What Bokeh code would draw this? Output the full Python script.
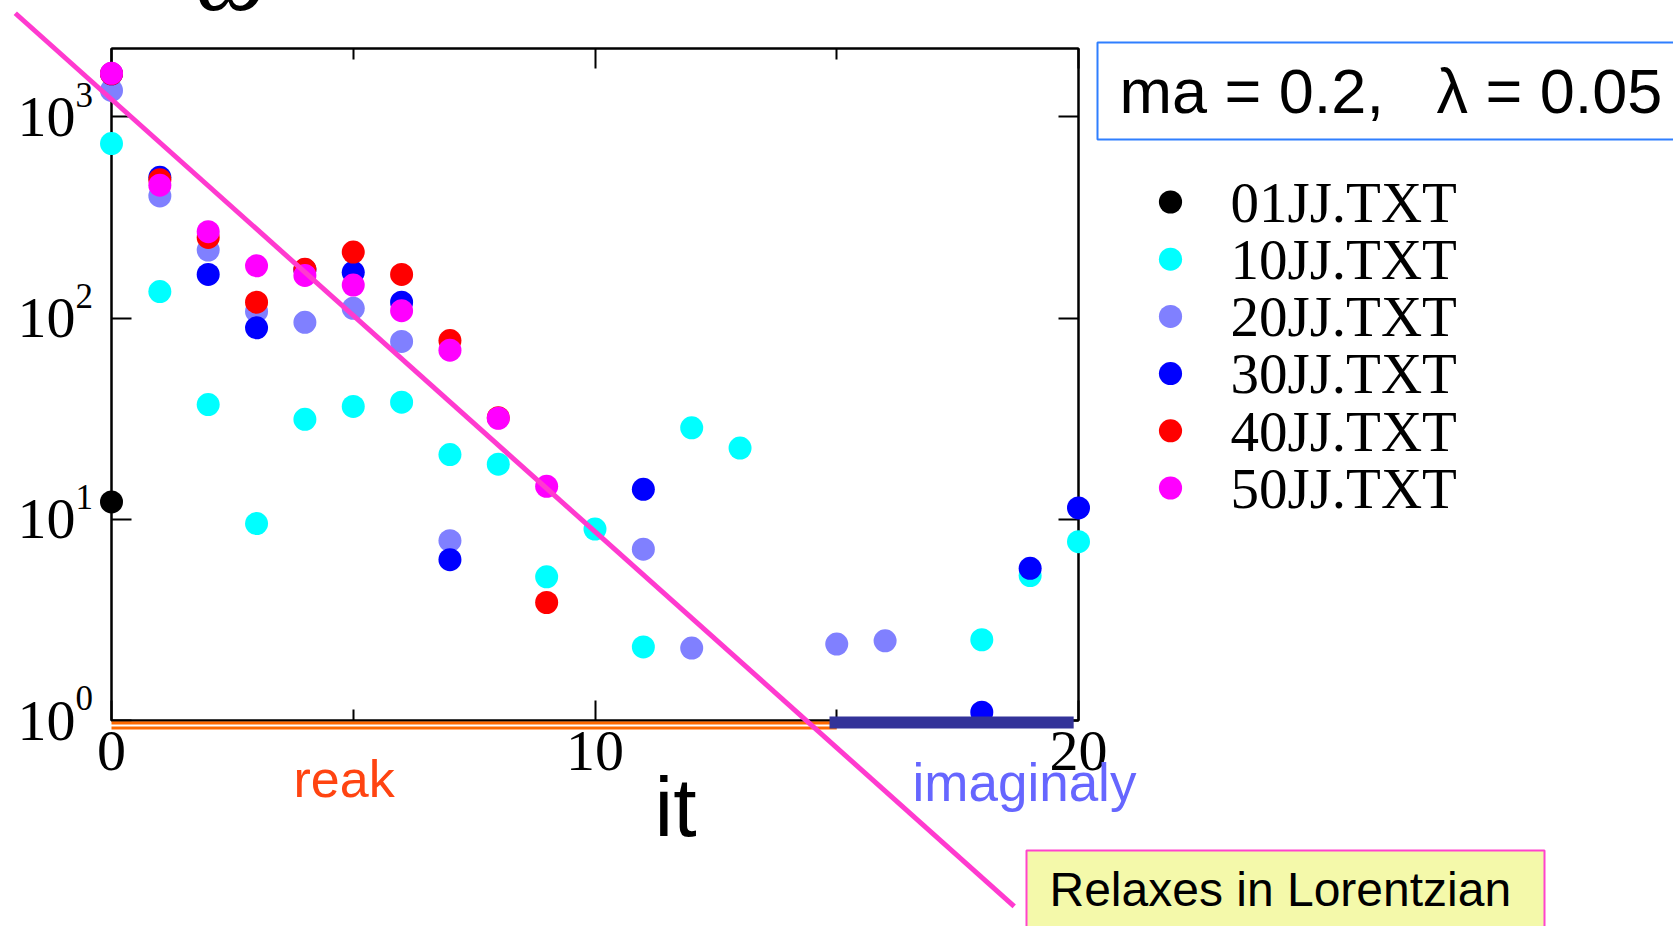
import math
from bokeh.plotting import figure
from bokeh.models import FixedTicker, LinearAxis, LogAxis
from bokeh.core.properties import value
from bokeh.embed import file_html
from bokeh.resources import INLINE

# ---------------- data ----------------
series_names = ["01JJ.TXT", "10JJ.TXT", "20JJ.TXT", "30JJ.TXT", "40JJ.TXT", "50JJ.TXT"]
series_colors = ["#000000", "#00FFFF", "#8080FF", "#0000FF", "#FF0000", "#FF00FF"]

x01 = [0]
y01 = [12.2]

x10 = [0, 1, 2, 3, 4, 5, 6, 7, 8, 9, 10, 11, 12, 13, 18, 19, 20]
y10 = [738, 135.5, 37.2, 9.53, 31.4, 36.4, 38.2, 21.0, 18.8, 5.18, 8.95, 2.32, 28.5, 22.6, 2.52, 5.25, 7.74]

x20 = [0, 1, 2, 3, 4, 5, 6, 7, 11, 12, 15, 16]
y20 = [1355, 405, 218, 108, 95.3, 112, 76.6, 7.83, 7.11, 2.29, 2.40, 2.49]

x30 = [0, 1, 2, 3, 4, 5, 6, 7, 11, 18, 19, 20]
y30 = [1640, 501, 165, 89.5, 174, 169, 120, 6.30, 14.1, 1.10, 5.71, 11.4]

x40 = [0, 1, 2, 3, 4, 5, 6, 7, 8, 9]
y40 = [1640, 488, 252, 120, 175, 213, 165, 77.4, 32.0, 3.86]

x50 = [0, 1, 2, 3, 4, 5, 6, 7, 8, 9]
y50 = [1648, 458, 269, 182, 163, 146, 109, 69.3, 31.8, 14.6]

series_x = [x01, x10, x20, x30, x40, x50]
series_y = [y01, y10, y20, y30, y40, y50]

# Lorentzian relaxation guide line: log10(y) = fit_a + fit_b * x
fit_a = 3.088
fit_b = -0.2149
fit_x = [-1.99, 18.67]

# real / imaginary bands along the x axis
real_band = [0, 15.0]
imag_band = [14.85, 19.9]

x_ticks = [0, 10, 20]
x_minor = [5, 15]
x_tick_labels = {0: "0", 10: "10", 20: "20"}
y_ticks = [1, 10, 100, 1000]
y_tick_base = {1: "10", 10: "10", 100: "10", 1000: "10"}
y_tick_exponents = ["0", "1", "2", "3"]

X0, X1 = 0, 20
Y0, Y1 = 1, 2190

# ---------------- layout helpers (canvas pixels -> data) ----------------
W, H = 1673, 926
FL, FR, FT, FB = 111, 1078, 48, 720  # frame box in canvas pixels
BASE_SHIFT = 0.37  # empirical alphabetic-baseline correction (fraction of font size)


def px2x(px):
    return X0 + (px - FL) / (FR - FL) * (X1 - X0)


def py2y(py):
    l0, l1 = math.log10(Y0), math.log10(Y1)
    return 10 ** (l0 + (FB - py) / (FB - FT) * (l1 - l0))


p = figure(width=W, height=H, x_range=(X0, X1), y_range=(Y0, Y1), y_axis_type="log",
           output_backend="svg", toolbar_location=None,
           min_border_left=FL, min_border_right=W - FR,
           min_border_top=FT, min_border_bottom=H - FB)
p.background_fill_color = "white"
p.border_fill_color = "white"
p.outline_line_color = "black"
p.outline_line_width = 2
p.xgrid.visible = False
p.ygrid.visible = False

SERIF = "Liberation Serif"
SANS = "Liberation Sans"

xa = p.xaxis[0]
xa.ticker = FixedTicker(ticks=x_ticks, minor_ticks=x_minor)
xa.major_label_overrides = x_tick_labels
ya = p.yaxis[0]
ya.ticker = FixedTicker(ticks=y_ticks, minor_ticks=[])
ya.major_label_overrides = y_tick_base

for ax in (xa, ya):
    ax.axis_line_width = 2
    ax.major_tick_line_width = 2
    ax.minor_tick_line_width = 2
    ax.major_tick_in = 20
    ax.major_tick_out = 0
    ax.minor_tick_in = 11
    ax.minor_tick_out = 0
    ax.major_label_text_font = SERIF
    ax.major_label_text_font_size = "58px"
    ax.major_label_text_color = "black"
xa.major_label_standoff = 11
ya.major_label_standoff = 36

top_ax = LinearAxis(ticker=FixedTicker(ticks=x_ticks, minor_ticks=x_minor),
                    major_label_overrides={t: "" for t in x_ticks})
right_ax = LogAxis(ticker=FixedTicker(ticks=y_ticks, minor_ticks=[]),
                   major_label_overrides={t: "" for t in y_ticks})
for ax in (top_ax, right_ax):
    ax.axis_line_width = 2
    ax.major_tick_line_width = 2
    ax.minor_tick_line_width = 2
    ax.major_tick_in = 20
    ax.major_tick_out = 0
    ax.minor_tick_in = 11
    ax.minor_tick_out = 0
    ax.major_label_text_font_size = "1px"
p.add_layout(top_ax, "above")
p.add_layout(right_ax, "right")

# exponents of the y tick labels
p.text(x=[X0] * len(y_ticks), y=y_ticks, text=y_tick_exponents, text_font=value(SERIF),
       text_font_size="35px", text_align="left", text_baseline="alphabetic",
       x_offset=-36, y_offset=-(9.5 + BASE_SHIFT * 35), level="overlay")

# ---------------- data points ----------------
for xs, ys, c in zip(series_x, series_y, series_colors):
    p.scatter(xs, ys, size=23, fill_color=c, line_color=None, level="overlay")

# ---------------- bands under the axis ----------------
decade_px = (FB - FT) / (math.log10(Y1) - math.log10(Y0))


def below_axis(offset_px):
    return Y0 * 10 ** (-offset_px / decade_px)


p.line(real_band, [below_axis(2.5)] * 2, line_color="#FF6A00", line_width=3, level="overlay")
p.line(real_band, [below_axis(7.5)] * 2, line_color="#FF6A00", line_width=3, level="overlay")
p.line(imag_band, [below_axis(2.0)] * 2, line_color="#333399", line_width=12, level="overlay")

# ---------------- fit line ----------------
fit_y = [10 ** (fit_a + fit_b * x) for x in fit_x]
p.line(fit_x, fit_y, line_color="#FF3ACF", line_width=5, level="overlay")

# ---------------- boxes ----------------
p.quad(left=[px2x(1097)], right=[px2x(1720)], top=[py2y(42)], bottom=[py2y(139)],
       fill_color="white", line_color="#2F7FFF", line_width=2, level="overlay")
p.quad(left=[px2x(1026)], right=[px2x(1544)], top=[py2y(850)], bottom=[py2y(990)],
       fill_color="#F4F9AA", line_color="#FF44CC", line_width=2, level="overlay")


# ---------------- texts ----------------
def add_text(px, py, text, font, size_px, color="black", align="left", style="normal"):
    p.text(x=[px2x(px)], y=[py2y(py - BASE_SHIFT * size_px)], text=[text],
           text_font=value(font), text_font_size=f"{size_px}px", text_color=color,
           text_align=align, text_baseline="alphabetic", text_font_style=style,
           level="overlay")


add_text(1119, 114, "ma = 0.2,\u00a0\u00a0\u00a0\u03bb = 0.05", SANS, 63)
add_text(1049, 907, "Relaxes in Lorentzian", SANS, 48)
add_text(293, 798, "reak", SANS, 52, color="#FF4411")
add_text(912, 802, "imaginaly", SANS, 53, color="#6666FF")
add_text(675, 838, "it", SANS, 84, align="center")
add_text(195, 13, "\u03c9", SERIF, 100, style="italic")

# ---------------- legend (drawn with glyphs) ----------------
leg_marker_px = 1170
leg_text_px = 1230
leg_row0_py = 201.5
leg_pitch = 57.2
for i, (name, c) in enumerate(zip(series_names, series_colors)):
    cy = leg_row0_py + i * leg_pitch
    mx = px2x(leg_marker_px)
    p.line([mx - 0.002, mx + 0.002], [py2y(cy)] * 2, line_color=c, line_width=23,
           line_cap="round", level="overlay")
    add_text(leg_text_px, cy + 21.3, name, SERIF, 57)

open("out.html", "w").write(file_html(p, INLINE))
